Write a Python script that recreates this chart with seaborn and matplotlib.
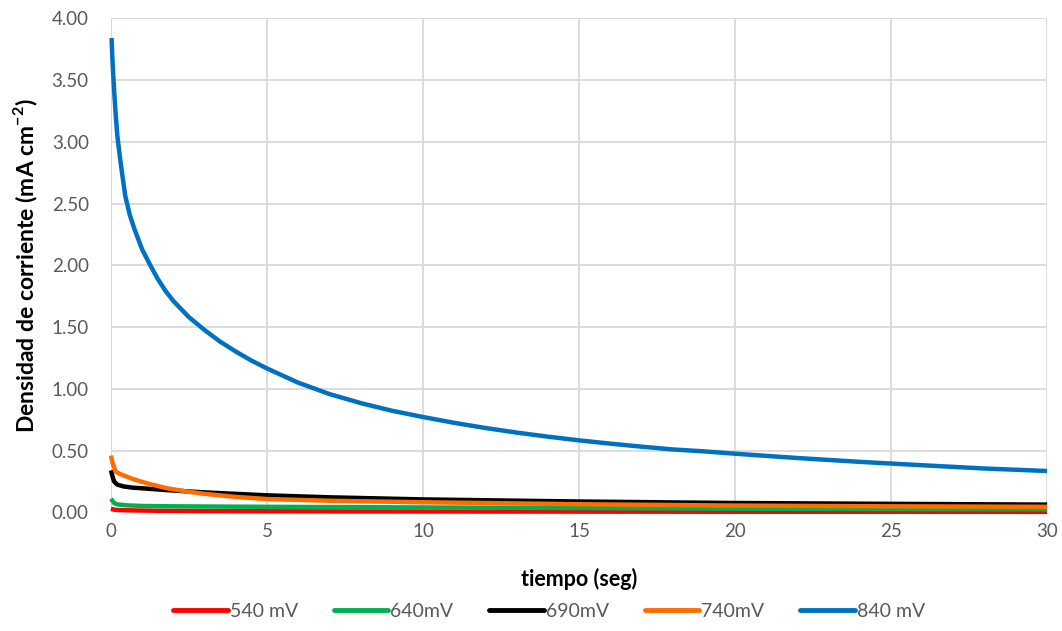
import matplotlib
matplotlib.use("Agg")
import matplotlib.pyplot as plt
import seaborn as sns
import pandas as pd

# ---- data ----
series_names = ["540 mV", "640mV", "690mV", "740mV", "840 mV"]
colors = ["#FF0000", "#00B050", "#000000", "#FF6D00", "#0070C0"]

t_540 = [0.0, 0.1, 0.3, 0.7, 1.5, 3, 5, 10, 15, 20, 25, 30]
j_540 = [0.03, 0.022, 0.018, 0.016, 0.013, 0.011, 0.009, 0.007, 0.006, 0.005, 0.005, 0.004]

t_640 = [0.0, 0.1, 0.2, 0.5, 1.0, 2, 5, 10, 15, 20, 25, 30]
j_640 = [0.11, 0.075, 0.065, 0.057, 0.052, 0.049, 0.045, 0.040, 0.035, 0.030, 0.027, 0.025]

t_690 = [0.0, 0.05, 0.1, 0.2, 0.4, 0.7, 1.0, 1.8, 3, 5, 7, 10, 15, 20, 25, 30]
j_690 = [0.34, 0.29, 0.25, 0.225, 0.21, 0.20, 0.195, 0.18, 0.162, 0.138, 0.122, 0.105, 0.088, 0.076, 0.069, 0.063]

t_740 = [0.0, 0.05, 0.15, 0.3, 0.7, 1.2, 1.8, 2.4, 3, 4, 5, 7, 10, 15, 20, 25, 30]
j_740 = [0.46, 0.40, 0.33, 0.31, 0.27, 0.232, 0.195, 0.17, 0.15, 0.125, 0.108, 0.094, 0.082, 0.066, 0.055, 0.049, 0.045]

t_840 = [0.02, 0.04, 0.07, 0.1, 0.14, 0.2, 0.25, 0.3, 0.38, 0.46, 0.6, 0.75, 1.0, 1.25, 1.5,
         1.75, 2.0, 2.5, 3.0, 3.5, 4.0, 4.5, 5, 6, 7, 8, 9, 10, 11, 12, 13, 14, 15, 16, 17,
         18, 19, 20, 22, 24, 26, 28, 30]
j_840 = [3.84, 3.70, 3.55, 3.42, 3.26, 3.06, 2.95, 2.85, 2.70, 2.56, 2.41, 2.295, 2.128, 2.005, 1.89,
         1.792, 1.711, 1.580, 1.476, 1.382, 1.302, 1.229, 1.165, 1.050, 0.958, 0.885, 0.823, 0.772,
         0.725, 0.683, 0.646, 0.613, 0.583, 0.5565, 0.532, 0.5095, 0.494, 0.475, 0.440, 0.409,
         0.3815, 0.355, 0.335]

x_ticks = [0, 5, 10, 15, 20, 25, 30]
y_ticks = [0.0, 0.5, 1.0, 1.5, 2.0, 2.5, 3.0, 3.5, 4.0]

# ---- build long-form table ----
frames = []
for name, t, j in zip(series_names,
                      [t_540, t_640, t_690, t_740, t_840],
                      [j_540, j_640, j_690, j_740, j_840]):
    frames.append(pd.DataFrame({"t": t, "j": j, "serie": name}))
df = pd.concat(frames, ignore_index=True)

sns.set_theme(style="white")
plt.rcParams["font.family"] = ["Lato", "DejaVu Sans"]
plt.rcParams["mathtext.fontset"] = "custom"
plt.rcParams["mathtext.rm"] = "Lato"
plt.rcParams["mathtext.bf"] = "Lato:bold"

fig = plt.figure(figsize=(10.62, 6.31), dpi=100)
ax = fig.add_axes([0.1045, 0.188, 0.8815, 0.783])

sns.lineplot(data=df, x="t", y="j", hue="serie", hue_order=series_names,
             palette=colors, linewidth=3.2, estimator=None, sort=True, ax=ax)
for ln in ax.lines:
    ln.set_clip_on(False)
    ln.set_solid_capstyle("butt")
    ln.set_solid_joinstyle("round")

ax.set_xlim(0, 30)
ax.set_ylim(0, 4)
ax.set_xticks(x_ticks)
ax.set_yticks(y_ticks)
ax.set_xticklabels([str(v) for v in x_ticks])
ax.set_yticklabels([f"{v:.2f}" for v in y_ticks])
ax.tick_params(axis="y", labelsize=13.5, colors="#595959", length=0, pad=16)
ax.tick_params(axis="x", labelsize=13.5, colors="#595959", length=0, pad=8)

ax.grid(True, color="#D9D9D9", linewidth=1.3)
ax.set_axisbelow(True)
for s in ax.spines.values():
    s.set_visible(False)
ax.axvline(0, color="#BFBFBF", linewidth=1.3, zorder=0.5)

ax.set_xlabel("tiempo (seg)", fontsize=15.5, fontweight="bold", color="black", labelpad=20)
ax.set_ylabel(r"Densidad de corriente (mA cm$^{\mathbf{-2}}$)", fontsize=16.5,
              fontweight="bold", color="black", labelpad=8)

leg = ax.legend(loc="upper center", bbox_to_anchor=(0.468, -0.183), ncol=5, frameon=False,
                fontsize=14, handlelength=2.8, handletextpad=0.1, columnspacing=1.85,
                borderaxespad=0, borderpad=0)
for h in leg.get_lines():
    h.set_linewidth(3.5)
    h.set_solid_capstyle("round")
for txt in leg.get_texts():
    txt.set_color("#595959")

fig.savefig("out.png", dpi=100)
